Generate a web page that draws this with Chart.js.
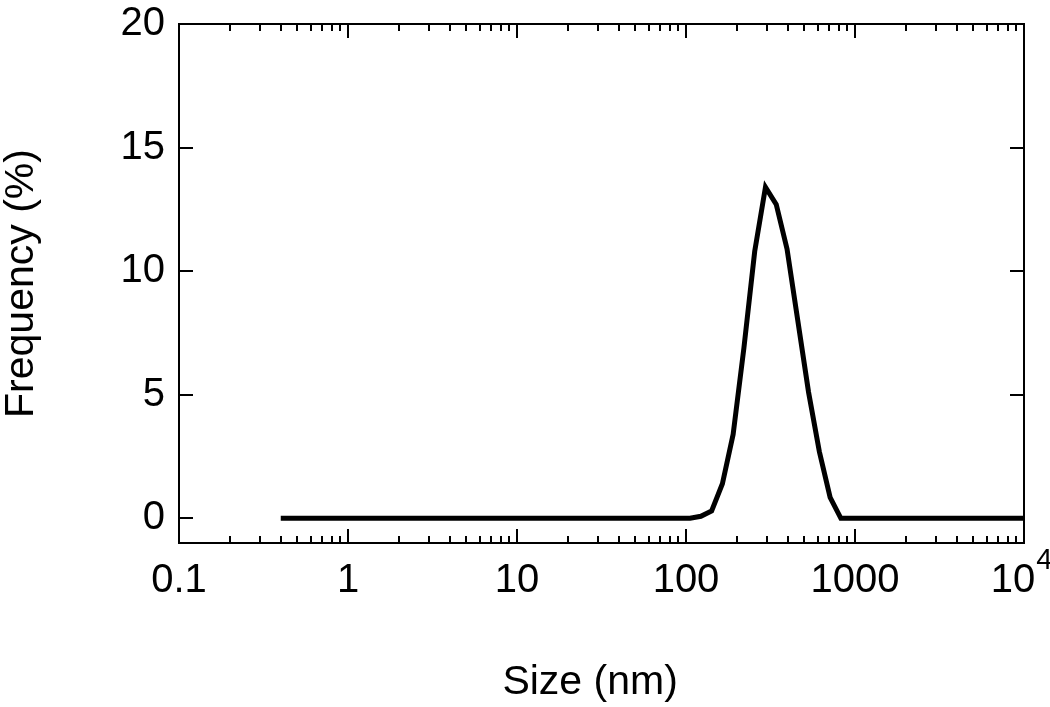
<!DOCTYPE html>
<html lang="en">
<head>
  <meta charset="UTF-8">
  <title>Size Distribution</title>
  <script src="https://cdn.jsdelivr.net/npm/chart.js"></script>
  <style>
    body { margin: 0; background: #fff; }
    #wrap { width: 1050px; height: 707px; position: relative; }
  </style>
</head>
<body>
  <div id="wrap"><canvas id="sizeChart"></canvas></div>

  <script>
    // size bins (nm) and frequency (%)
    const sizes = [0.4, 0.4632, 0.5365, 0.6213, 0.7195, 0.8332, 0.9649, 1.117, 1.294, 1.499,
      1.736, 2.01, 2.328, 2.696, 3.122, 3.615, 4.187, 4.849, 5.615, 6.503,
      7.531, 8.721, 10.1, 11.7, 13.54, 15.69, 18.17, 21.04, 24.36, 28.21,
      32.67, 37.84, 43.82, 50.75, 58.77, 68.06, 78.82, 91.28, 105.7, 122.4,
      141.8, 164.2, 190.1, 220.2, 255.0, 295.3, 342.0, 396.1, 458.7, 531.2,
      615.1, 712.4, 825.0, 955.4, 1106, 1281, 1484, 1718, 1990, 2305,
      2669, 3091, 3580, 4145, 4801, 5560, 6439, 7456, 8635, 10000];
    const frequency = [0, 0, 0, 0, 0, 0, 0, 0, 0, 0,
      0, 0, 0, 0, 0, 0, 0, 0, 0, 0,
      0, 0, 0, 0, 0, 0, 0, 0, 0, 0,
      0, 0, 0, 0, 0, 0, 0, 0, 0, 0.08,
      0.3, 1.4, 3.4, 6.9, 10.8, 13.4, 12.7, 10.9, 8.0, 5.1,
      2.7, 0.85, 0, 0, 0, 0, 0, 0, 0, 0,
      0, 0, 0, 0, 0, 0, 0, 0, 0, 0];

    const xTicks = [0.1, 1, 10, 100, 1000, 10000];
    // last label is 10 with a superscript 4 drawn by the plugin
    const xTickLabels = ['0.1', '1', '10', '100', '1000', '10  '];
    const yTicks = [0, 5, 10, 15, 20];

    const font = "'Liberation Sans', Arial, sans-serif";

    // box frame + inward ticks on all four sides, and the exponent of 10^4
    const frameTicks = {
      id: 'frameTicks',
      afterDraw(chart) {
        const { ctx, chartArea: a, scales: { x, y } } = chart;
        ctx.save();
        ctx.strokeStyle = '#000';
        ctx.lineWidth = 2;
        ctx.strokeRect(a.left, a.top, a.right - a.left, a.bottom - a.top);
        ctx.beginPath();
        for (let d = -1; d <= 4; d++) {
          for (let m = 1; m <= 9; m++) {
            const v = m * Math.pow(10, d);
            if (v > 10000) break;
            const px = Math.round(x.getPixelForValue(v));
            const len = m === 1 ? 14 : 7;
            ctx.moveTo(px, a.bottom); ctx.lineTo(px, a.bottom - len);
            ctx.moveTo(px, a.top); ctx.lineTo(px, a.top + len);
          }
        }
        yTicks.forEach(v => {
          const py = Math.round(y.getPixelForValue(v));
          ctx.moveTo(a.left, py); ctx.lineTo(a.left + 14, py);
          ctx.moveTo(a.right, py); ctx.lineTo(a.right - 14, py);
        });
        ctx.stroke();

        // superscript "4"
        ctx.fillStyle = '#000';
        ctx.textAlign = 'left';
        ctx.textBaseline = 'alphabetic';
        ctx.font = `40px ${font}`;
        const w10 = ctx.measureText('10').width;
        const wAll = ctx.measureText('10  ').width;
        ctx.font = `29px ${font}`;
        ctx.fillText('4', x.getPixelForValue(10000) - wAll / 2 + w10 + 1, a.bottom + 26);
        ctx.restore();
      }
    };

    new Chart(document.getElementById('sizeChart'), {
      type: 'line',
      data: {
        datasets: [{
          data: sizes.map((s, i) => ({ x: s, y: frequency[i] })),
          borderColor: '#000',
          borderWidth: 5,
          pointRadius: 0,
          tension: 0,
          fill: false
        }]
      },
      options: {
        responsive: true,
        maintainAspectRatio: false,
        animation: false,
        layout: { padding: { top: 24, right: 26, left: 0, bottom: 0 } },
        plugins: { legend: { display: false }, tooltip: { enabled: false } },
        scales: {
          x: {
            type: 'logarithmic',
            min: 0.1,
            max: 10000,
            afterBuildTicks: s => { s.ticks = xTicks.map(v => ({ value: v })); },
            afterFit: s => { s.height = 164; s.paddingLeft = 0; s.paddingRight = 0; },
            grid: { display: false, drawTicks: false },
            border: { display: false },
            ticks: {
              autoSkip: false,
              maxRotation: 0,
              padding: 14,
              color: '#000',
              font: { family: font, size: 40 },
              callback: (v, i) => xTickLabels[i]
            },
            title: {
              display: true,
              text: 'Size (nm)  ',
              color: '#000',
              font: { family: font, size: 41 },
              padding: { top: 0, bottom: 0 }
            }
          },
          y: {
            min: -1,
            max: 20,
            afterBuildTicks: s => { s.ticks = yTicks.map(v => ({ value: v })); },
            afterFit: s => { s.width = 179; s.paddingTop = 0; s.paddingBottom = 0; },
            grid: { display: false, drawTicks: false },
            border: { display: false },
            ticks: {
              padding: 14,
              color: '#000',
              font: { family: font, size: 40 }
            },
            title: {
              display: true,
              text: 'Frequency (%)',
              color: '#000',
              font: { family: font, size: 41 },
              padding: { top: -3, bottom: 0 }
            }
          }
        }
      },
      plugins: [frameTicks]
    });
  </script>
</body>
</html>
